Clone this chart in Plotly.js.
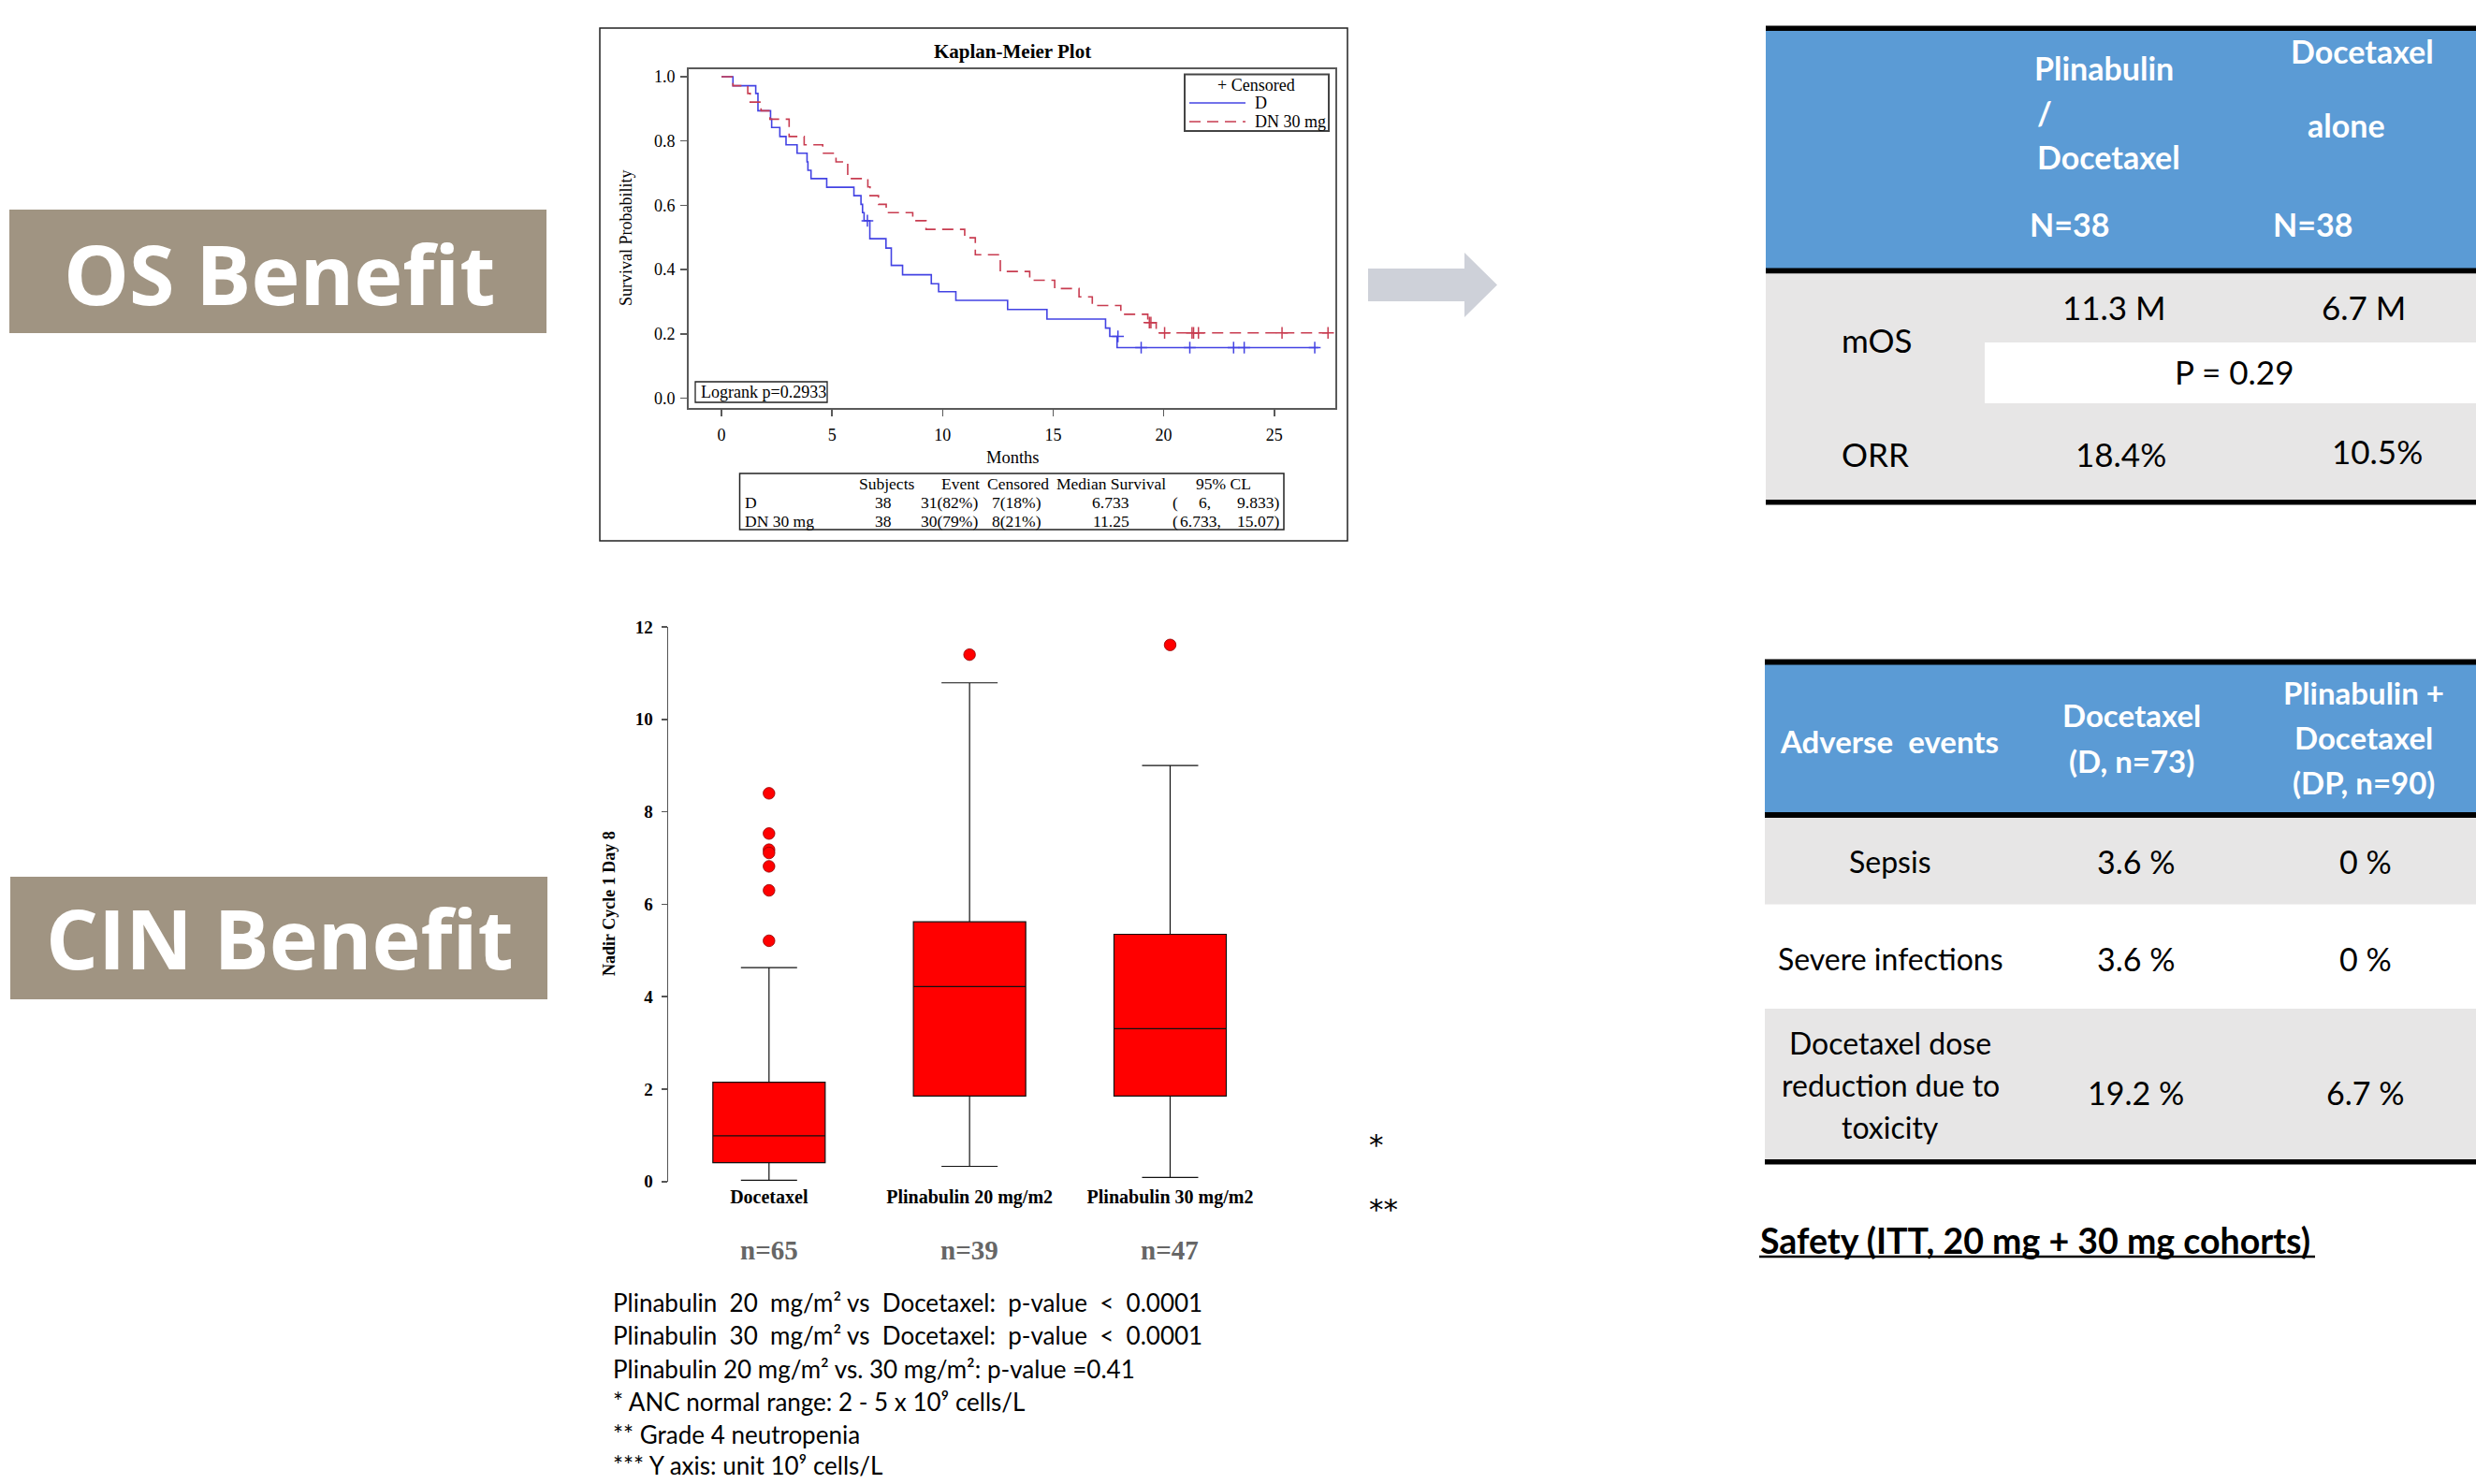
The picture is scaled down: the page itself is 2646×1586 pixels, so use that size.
<!DOCTYPE html>
<html>
<head>
<meta charset="utf-8">
<script src="https://cdn.plot.ly/plotly-3.0.1.min.js"></script>
<style>html,body{margin:0;padding:0;background:#fff;}#chart{width:2646px;height:1586px;}</style>
</head>
<body>
<div id="chart"></div>
<script>
// ---------------- DATA ----------------
// Kaplan-Meier: D (docetaxel) and DN 30 mg
const dTime = [0, 0.52, 1.55, 1.65, 2.22, 2.27, 2.64, 2.92, 3.42, 3.87, 3.91, 4.05, 4.76, 5.99, 6.31, 6.38, 6.45, 6.71, 7.44, 7.68, 8.19, 9.49, 9.82, 10.6, 12.94, 14.72, 17.37, 17.56, 17.89, 26.99];
const dSurv = [1.000, 0.972, 0.948, 0.894, 0.868, 0.842, 0.814, 0.788, 0.762, 0.735, 0.709, 0.683, 0.656, 0.630, 0.603, 0.577, 0.552, 0.496, 0.467, 0.413, 0.384, 0.356, 0.331, 0.304, 0.276, 0.246, 0.218, 0.192, 0.157, 0.157];
const dCensTime = [6.60, 17.93, 18.98, 21.18, 23.16, 23.64, 26.83];
const dCensSurv = [0.552, 0.192, 0.157, 0.157, 0.157, 0.157, 0.157];

const dnTime = [0, 0.52, 1.19, 1.30, 1.79, 2.19, 3.06, 3.74, 4.58, 5.18, 5.71, 6.62, 6.72, 7.10, 7.45, 8.65, 9.25, 11.0, 11.48, 12.61, 13.94, 15.07, 16.17, 16.77, 18.06, 19.28, 19.66, 27.43];
const dnSurv = [1.000, 0.972, 0.948, 0.921, 0.894, 0.868, 0.814, 0.788, 0.762, 0.735, 0.683, 0.657, 0.630, 0.603, 0.577, 0.552, 0.525, 0.499, 0.446, 0.394, 0.367, 0.341, 0.315, 0.288, 0.261, 0.235, 0.203, 0.203];
const dnCensTime = [19.35, 19.42, 20.04, 21.28, 21.35, 21.57, 25.35, 27.43];
const dnCensSurv = [0.235, 0.235, 0.203, 0.203, 0.203, 0.203, 0.203, 0.203];

const kmXTicks = [0, 5, 10, 15, 20, 25];
const kmYTicks = [0, 0.2, 0.4, 0.6, 0.8, 1.0];

// KM summary table
const kmTabHeader = ['Subjects', 'Event', 'Censored', 'Median Survival', '95% CL'];
const kmTabGroups = ['D', 'DN 30 mg'];
const kmTabSubjects = ['38', '38'];
const kmTabEvent = ['31(82%)', '30(79%)'];
const kmTabCensored = ['7(18%)', '8(21%)'];
const kmTabMedian = ['6.733', '11.25'];
const kmTabLower = ['6,', '6.733,'];
const kmTabUpper = ['9.833)', '15.07)'];

// Box plot: nadir ANC cycle 1 day 8
const boxCats = ['Docetaxel', 'Plinabulin 20 mg/m2', 'Plinabulin 30 mg/m2'];
const boxLower = [0.03, 0.33, 0.09];
const boxQ1 = [0.41, 1.85, 1.85];
const boxMedian = [0.99, 4.22, 3.31];
const boxQ3 = [2.15, 5.62, 5.35];
const boxUpper = [4.63, 10.79, 9.00];
const outlierCat = ['Docetaxel', 'Docetaxel', 'Docetaxel', 'Docetaxel', 'Docetaxel', 'Docetaxel', 'Docetaxel', 'Plinabulin 20 mg/m2', 'Plinabulin 30 mg/m2'];
const outlierVal = [8.40, 7.53, 7.18, 7.11, 6.82, 6.30, 5.21, 11.40, 11.61];
const boxN = ['n=65', 'n=39', 'n=47'];
const boxYTicks = [0, 2, 4, 6, 8, 10, 12];

// Notes
const notes = [
  'Plinabulin\u00A0 20\u00A0 mg/m\u00B2 vs\u00A0 Docetaxel:\u00A0 p-value\u00A0 <\u00A0 0.0001',
  'Plinabulin\u00A0 30\u00A0 mg/m\u00B2 vs\u00A0 Docetaxel:\u00A0 p-value\u00A0 <\u00A0 0.0001',
  'Plinabulin 20 mg/m\u00B2 vs. 30 mg/m\u00B2: p-value =0.41',
  '* ANC normal range: 2 - 5 x 10\u2079 cells/L',
  '** Grade 4 neutropenia',
  '*** Y axis: unit 10\u2079 cells/L'
];
const footMarks = ['*', '**'];

// Efficacy table
const effHead1 = ['Plinabulin', '/', 'Docetaxel', 'N=38'];
const effHead2 = ['Docetaxel', 'alone', 'N=38'];
const effRows = ['mOS', 'ORR'];
const effPD = ['11.3 M', '18.4%'];
const effD = ['6.7 M', '10.5%'];
const effP = 'P = 0.29';

// Safety table
const aeHeadLabel = 'Adverse\u00A0 events';
const aeHeadD = ['Docetaxel', '(D, n=73)'];
const aeHeadDP = ['Plinabulin +', 'Docetaxel', '(DP, n=90)'];
const aeRows = [['Sepsis'], ['Severe infections'], ['Docetaxel dose', 'reduction due to', 'toxicity']];
const aeD = ['3.6 %', '3.6 %', '19.2 %'];
const aeDP = ['0 %', '0 %', '6.7 %'];
const safetyTitle = 'Safety (ITT, 20 mg + 30 mg cohorts)';
const sectionLabels = ['OS Benefit', 'CIN Benefit'];

// ---------------- LAYOUT HELPERS ----------------
const W = 2646, H = 1586;
const fx = x => x / W;
const fy = y => 1 - y / H;
const SERIF = 'Liberation Serif, Times New Roman, serif';
const SANS = 'Lato, Noto Sans, sans-serif';
const OPEN = 'Open Sans, Noto Sans, sans-serif';

function ann(text, x, y, size, o) {
  o = o || {};
  return {
    text: text, x: fx(x), y: fy(y), xref: 'paper', yref: 'paper', showarrow: false,
    xanchor: o.xa || 'center', yanchor: o.ya || 'middle', align: o.align || 'center',
    textangle: o.angle || 0,
    font: {family: o.family || SANS, size: size, color: o.color || '#000', weight: o.weight || 'normal'}
  };
}
function rect(x0, y0, x1, y1, fill, lineColor, lineWidth) {
  return {type: 'rect', xref: 'paper', yref: 'paper', x0: fx(x0), x1: fx(x1), y0: fy(y1), y1: fy(y0),
    fillcolor: fill || 'rgba(0,0,0,0)', line: {color: lineColor || 'rgba(0,0,0,0)', width: lineWidth || 0}, layer: 'below'};
}
function hline(x0, x1, y, color, width, dash) {
  return {type: 'line', xref: 'paper', yref: 'paper', x0: fx(x0), x1: fx(x1), y0: fy(y), y1: fy(y),
    line: {color: color, width: width, dash: dash || 'solid'}};
}

const BLUE = '#4343E3';
const RED = '#C83C50';
const DASH = '12px,7px';
const HEADBLUE = '#5B9BD5';
const BODYGRAY = '#E7E6E6';
const TAN = '#A09482';
const KMF = 17.5;

// ---------------- TRACES ----------------
const traces = [
  {type: 'scatter', mode: 'lines', x: dTime, y: dSurv, line: {shape: 'hv', color: BLUE, width: 1.6}, xaxis: 'x', yaxis: 'y', hoverinfo: 'skip'},
  {type: 'scatter', mode: 'lines', x: dnTime, y: dnSurv, line: {shape: 'hv', color: RED, width: 1.6, dash: DASH}, xaxis: 'x', yaxis: 'y', hoverinfo: 'skip'},
  {type: 'scatter', mode: 'markers', x: dCensTime, y: dCensSurv, marker: {symbol: 'cross-thin', size: 9, line: {color: BLUE, width: 1.5}}, xaxis: 'x', yaxis: 'y', hoverinfo: 'skip'},
  {type: 'scatter', mode: 'markers', x: dnCensTime, y: dnCensSurv, marker: {symbol: 'cross-thin', size: 9, line: {color: RED, width: 1.5}}, xaxis: 'x', yaxis: 'y', hoverinfo: 'skip'},
  {type: 'box', x: boxCats, q1: boxQ1, median: boxMedian, q3: boxQ3, lowerfence: boxLower, upperfence: boxUpper,
    fillcolor: '#FF0000', line: {color: '#111', width: 1.2}, width: 0.56, whiskerwidth: 0.5, boxpoints: false,
    xaxis: 'x2', yaxis: 'y2', hoverinfo: 'skip'},
  {type: 'scatter', mode: 'markers', x: outlierCat, y: outlierVal,
    marker: {color: '#FF0000', size: 12.5, line: {color: '#900000', width: 0.8}}, xaxis: 'x2', yaxis: 'y2', hoverinfo: 'skip', cliponaxis: false}
];

// ---------------- SHAPES ----------------
const shapes = [];
// section labels
shapes.push(rect(10, 224, 584, 356, TAN));
shapes.push(rect(11, 937, 585, 1068, TAN));
// KM frame
shapes.push(rect(641, 30, 1440, 578, 'rgba(0,0,0,0)', '#222', 1.5));
// KM legend box
shapes.push(rect(1266, 79.5, 1420, 140, '#fff', '#444', 2));
shapes.push(hline(1271, 1331, 110, BLUE, 1.6));
shapes.push(hline(1271, 1331, 130, RED, 1.6, DASH));
// Logrank box
shapes.push(rect(743, 408, 884, 430, '#fff', '#222', 1.3));
// KM summary table box
shapes.push(rect(790.5, 506, 1372, 566, '#fff', '#222', 1.5));
// arrow
shapes.push({type: 'path', xref: 'paper', yref: 'paper',
  path: 'M ' + fx(1462) + ' ' + fy(287) + ' L ' + fx(1565) + ' ' + fy(287) + ' L ' + fx(1565) + ' ' + fy(270) +
        ' L ' + fx(1600) + ' ' + fy(304.5) + ' L ' + fx(1565) + ' ' + fy(339) + ' L ' + fx(1565) + ' ' + fy(322) +
        ' L ' + fx(1462) + ' ' + fy(322) + ' Z',
  fillcolor: '#CED1D9', line: {width: 0}, layer: 'below'});
// efficacy table
shapes.push(rect(1887, 31, 2646, 289, HEADBLUE));
shapes.push(rect(1887, 27.5, 2646, 33, '#000'));
shapes.push(rect(1887, 292, 2646, 536, BODYGRAY));
shapes.push(rect(1887, 286.6, 2646, 292.3, '#000'));
shapes.push(rect(2121, 366, 2646, 431, '#FFFFFF'));
shapes.push(rect(1887, 534, 2646, 539.6, '#000'));
// safety table
shapes.push(rect(1886, 710, 2646, 868, HEADBLUE));
shapes.push(rect(1886, 704.5, 2646, 710.4, '#000'));
shapes.push(rect(1886, 874, 2646, 966.6, BODYGRAY));
shapes.push(rect(1886, 1078, 2646, 1239, BODYGRAY));
shapes.push(rect(1886, 868, 2646, 874, '#000'));
shapes.push(rect(1886, 1239, 2646, 1244.5, '#000'));
// underline of safety title
shapes.push(hline(1880, 2474, 1343, '#000', 2.5));

// ---------------- ANNOTATIONS ----------------
const A = [];
// section labels
A.push(ann(sectionLabels[0], 298, 292, 88, {family: OPEN, color: '#fff', weight: 'bold'}));
A.push(ann(sectionLabels[1], 299, 1002, 88, {family: OPEN, color: '#fff', weight: 'bold'}));
// KM texts
A.push(ann('Kaplan-Meier Plot', 1082, 55, 21, {family: SERIF, weight: 'bold'}));
A.push(ann('Months', 1082, 489, 18.5, {family: SERIF}));
A.push(ann('Survival Probability', 669, 254, 18, {family: SERIF, angle: -90}));
A.push(ann('+ Censored', 1342.5, 90.5, 18, {family: SERIF}));
A.push(ann(kmTabGroups[0], 1339, 110, 18, {family: SERIF, xa: 'left'}));
A.push(ann(kmTabGroups[1], 1339, 130, 18, {family: SERIF, xa: 'left'}));
A.push(ann('Logrank p=0.2933', 747, 419, 18, {family: SERIF, xa: 'left'}));
// KM summary table
const kmHeadX = [947.5, 1026.5, 1087.5, 1187, 1307.5];
kmTabHeader.forEach((t, i) => A.push(ann(t, kmHeadX[i], 516.7, KMF, {family: SERIF})));
const rowY = [536.7, 556.7];
const lowerRight = [1296, 1307];
kmTabGroups.forEach((g, i) => {
  A.push(ann(g, 794, rowY[i], KMF, {family: SERIF, xa: 'left'}));
  A.push(ann(kmTabSubjects[i], 955, rowY[i], KMF, {family: SERIF, xa: 'right'}));
  A.push(ann(kmTabEvent[i], 1047, rowY[i], KMF, {family: SERIF, xa: 'right'}));
  A.push(ann(kmTabCensored[i], 1114.5, rowY[i], KMF, {family: SERIF, xa: 'right'}));
  A.push(ann(kmTabMedian[i], 1209, rowY[i], KMF, {family: SERIF, xa: 'right'}));
  A.push(ann('(', 1251, rowY[i], KMF, {family: SERIF, xa: 'left'}));
  A.push(ann(kmTabLower[i], lowerRight[i], rowY[i], KMF, {family: SERIF, xa: 'right'}));
  A.push(ann(kmTabUpper[i], 1368.5, rowY[i], KMF, {family: SERIF, xa: 'right'}));
});
// box plot texts
A.push(ann('Nadir Cycle 1 Day 8', 651, 966, 18, {family: SERIF, weight: 'bold', angle: -90}));
const nX = [821.8, 1036, 1250.4];
boxN.forEach((t, i) => A.push(ann(t, nX[i], 1335.6, 29, {family: SERIF, weight: 'bold', color: '#666'})));
A.push(ann(footMarks[0], 1461, 1223, 31, {xa: 'left', family: 'DejaVu Sans, sans-serif'}));
A.push(ann(footMarks[1], 1461, 1292, 31, {xa: 'left', family: 'DejaVu Sans, sans-serif'}));
// notes
const noteY = [1392, 1427, 1462.5, 1497.5, 1532.5, 1566];
notes.forEach((t, i) => A.push(ann(t, 653, noteY[i], 26, {xa: 'left'})));
// efficacy table header
const h1X = [2248.5, 2185, 2253, 2211], h1Y = [72.4, 120.3, 167.6, 239];
effHead1.forEach((t, i) => A.push(ann(t, h1X[i], h1Y[i], 34, {color: '#fff', weight: 'bold'})));
const h2X = [2524, 2507, 2471.5], h2Y = [55, 134, 239];
effHead2.forEach((t, i) => A.push(ann(t, h2X[i], h2Y[i], 34, {color: '#fff', weight: 'bold'})));
// efficacy body
A.push(ann(effRows[0], 2005, 363, 35));
A.push(ann(effPD[0], 2259, 327.5, 35));
A.push(ann(effD[0], 2525.5, 327.5, 35));
A.push(ann(effP, 2387.5, 396.6, 35));
A.push(ann(effRows[1], 2003.7, 485, 35));
A.push(ann(effPD[1], 2266, 485, 35));
A.push(ann(effD[1], 2540, 482, 35));
// safety header
A.push(ann(aeHeadLabel, 2019, 792, 33, {color: '#fff', weight: 'bold'}));
const hdY = [764, 813];
aeHeadD.forEach((t, i) => A.push(ann(t, 2278, hdY[i], 33, {color: '#fff', weight: 'bold'})));
const hdpY = [740, 788, 836];
aeHeadDP.forEach((t, i) => A.push(ann(t, 2526, hdpY[i], 33, {color: '#fff', weight: 'bold'})));
// safety body
const aeLineY = [[920], [1024], [1114, 1159, 1204]];
const aeValY = [920, 1024, 1167];
aeRows.forEach((lines, i) => {
  lines.forEach((t, j) => A.push(ann(t, 2020, aeLineY[i][j], 32)));
  A.push(ann(aeD[i], 2282, aeValY[i], 34));
  A.push(ann(aeDP[i], 2527.5, aeValY[i], 34));
});
A.push(ann(safetyTitle, 1879, 1325, 37.5, {xa: 'left', weight: 'bold'}));

// ---------------- LAYOUT ----------------
const layout = {
  width: W, height: H, margin: {l: 0, r: 0, t: 0, b: 0}, autosize: false,
  paper_bgcolor: '#fff', plot_bgcolor: 'rgba(0,0,0,0)', showlegend: false,
  font: {family: SANS, color: '#000'},
  xaxis: {
    domain: [fx(736), fx(1427)], range: [-1.481, 27.76], anchor: 'y',
    showgrid: false, zeroline: false, showline: true, mirror: true, linecolor: '#5a5a5a', linewidth: 2,
    ticks: 'outside', ticklen: 7, tickwidth: 1.5, tickcolor: '#5a5a5a', tickvals: kmXTicks,
    tickfont: {family: SERIF, size: 18, color: '#000'}, ticklabelstandoff: 4
  },
  yaxis: {
    domain: [fy(436), fy(74)], range: [-0.0306, 1.0233], anchor: 'x',
    showgrid: false, zeroline: false, showline: true, mirror: true, linecolor: '#5a5a5a', linewidth: 2,
    ticks: 'outside', ticklen: 7, tickwidth: 1.5, tickcolor: '#5a5a5a', tickvals: kmYTicks, tickformat: '.1f',
    tickfont: {family: SERIF, size: 18, color: '#000'}, ticklabelstandoff: 2
  },
  xaxis2: {
    domain: [fx(714), fx(1360)], range: [-0.503, 2.511], anchor: 'y2', type: 'category',
    categoryorder: 'array', categoryarray: boxCats,
    showgrid: false, zeroline: false, showline: false, ticks: '',
    tickfont: {family: SERIF, size: 20, color: '#000', weight: 'bold'}, ticklabelstandoff: 2
  },
  yaxis2: {
    domain: [fy(1262.8), fy(670)], range: [0, 12], anchor: 'x2',
    showgrid: false, zeroline: false, showline: true, linecolor: '#555', linewidth: 1.5,
    ticks: 'outside', ticklen: 6, tickwidth: 1.5, tickcolor: '#555', tickvals: boxYTicks,
    tickfont: {family: SERIF, size: 19, color: '#000', weight: 'bold'}, ticklabelstandoff: 5
  },
  shapes: shapes,
  annotations: A
};

Plotly.newPlot('chart', traces, layout, {staticPlot: true, displayModeBar: false});
</script>
</body>
</html>
